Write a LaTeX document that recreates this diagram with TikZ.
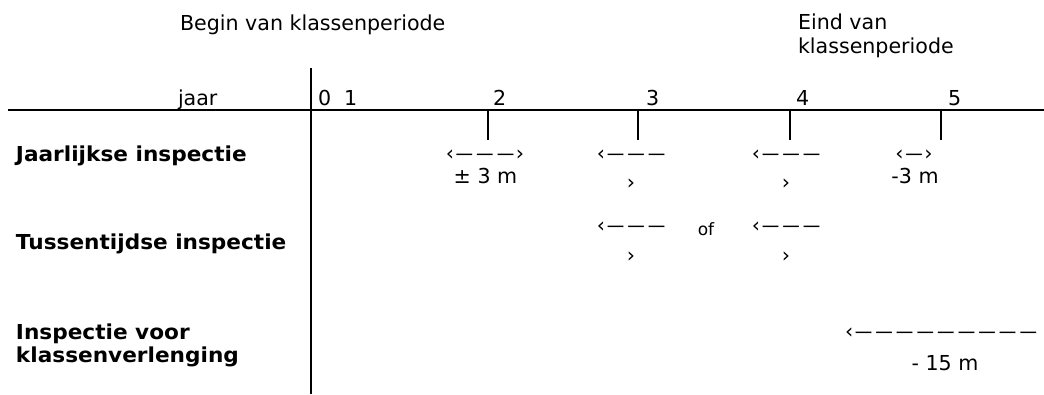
\documentclass[tikz,border=0pt]{standalone}
\usepackage{graphicx}
\usepackage{fontspec}
\setmainfont{DejaVu Sans}[BoldFeatures={FakeStretch=1.05}]
\newcommand\mydash{\makebox[1em]{\scalebox{0.85}[1]{—}}}
\tikzset{
  txt/.style={inner sep=0pt, outer sep=0pt, anchor=base west, font=\fontsize{20.6}{24}\selectfont},
  lbl/.style={txt, font=\fontsize{20.6}{24}\selectfont\bfseries},
  rng/.style={inner sep=0pt, outer sep=0pt, anchor=base, font=\fontsize{20.6}{24}\selectfont},
  small/.style={rng, font=\fontsize{17}{20}\selectfont},
  axisline/.style={line width=2pt},
}
\begin{document}
\begin{tikzpicture}[x=1pt, y=-1pt]
\useasboundingbox (0,0) rectangle (1044,394);
% headings
\node[txt] (begin) at (180,30) {Begin van klassenperiode};
\node[txt] (eind1) at (798,29) {Eind van};
\node[txt] (eind2) at (798,53.3) {klassenperiode};
% axes
\coordinate (hl) at (8,110);
\coordinate (hr) at (1044,110);
\coordinate (vt) at (311,68);
\coordinate (vb) at (311,394);
\draw[axisline] (hl) -- (hr);
\draw[axisline] (vt) -- (vb);
% ticks
\foreach \n/\x in {2/488,3/638,4/790,5/941}{
  \coordinate (t\n top) at (\x,110);
  \coordinate (t\n bot) at (\x,140);
  \draw[axisline] (t\n top) -- (t\n bot);
}
% axis labels
\node[txt] (jaar) at (178,105) {jaar};
\node[txt] (y0) at (318,105) {0};
\node[txt] (y1) at (344,105) {1};
\node[txt] (y2) at (493,105) {2};
\node[txt] (y3) at (646,105) {3};
\node[txt] (y4) at (796,105) {4};
\node[txt] (y5) at (948,105) {5};
% row labels
\node[lbl] (jaarl) at (16,161.7) {Jaarlijkse inspectie};
\node[lbl] (tuss) at (16,249) {Tussentijdse inspectie};
\node[lbl] (insp1) at (16,339) {Inspectie voor};
\node[lbl] (insp2) at (16,362) {klassenverlenging};
% row 1
\node[rng] (j2a) at (485,160.5) {‹\mydash\mydash\mydash›};
\node[rng] (j2b) at (485.5,183) {± 3 m};
\node[rng] (j3a) at (632,160) {‹\mydash\mydash\mydash};
\node[rng] (j3b) at (631,189) {›};
\node[rng] (j4a) at (787,160) {‹\mydash\mydash\mydash};
\node[rng] (j4b) at (786,189) {›};
\node[rng] (j5a) at (914,160.5) {‹\mydash›};
\node[rng] (j5b) at (915,183) {-3 m};
% row 2
\node[rng] (t3a) at (632,232.5) {‹\mydash\mydash\mydash};
\node[rng] (t3b) at (631,262.5) {›};
\node[small] (of) at (706,235) {of};
\node[rng] (t4a) at (787,232.5) {‹\mydash\mydash\mydash};
\node[rng] (t4b) at (786,262.5) {›};
% row 3
\node[txt] (k5a) at (845,338) {‹\mydash\mydash\mydash\mydash\mydash\mydash\mydash\mydash\mydash};
\node[rng] (k5b) at (945,370) {- 15 m};
\end{tikzpicture}
\end{document}
